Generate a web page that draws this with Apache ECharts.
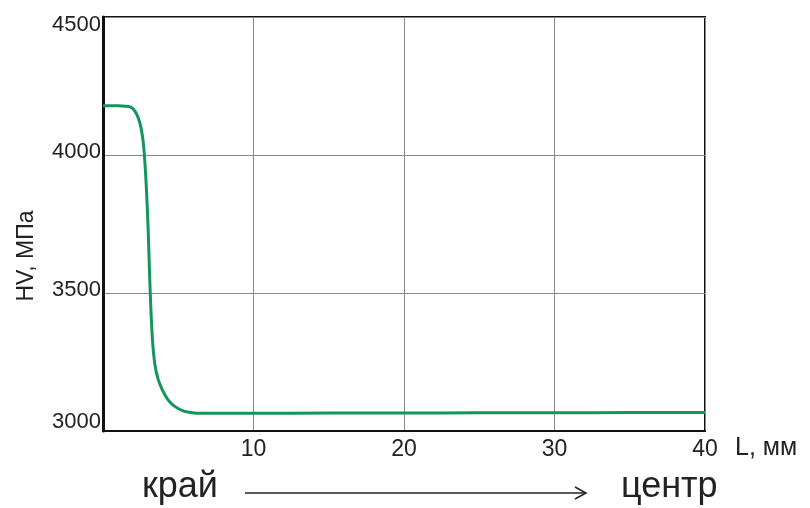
<!DOCTYPE html>
<html>
<head>
<meta charset="utf-8">
<script src="https://cdn.jsdelivr.net/npm/echarts@6/dist/echarts.min.js"></script>
<style>html,body{margin:0;padding:0;background:#fff}#c{width:810px;height:508px}</style>
</head>
<body>
<div id="c"></div>
<script>
const xMm = [0, 0.5, 1.0, 1.5, 1.8, 2.05, 2.25, 2.45, 2.6, 2.7, 2.8, 2.9, 3.0, 3.1, 3.2, 3.3, 3.45, 3.65, 3.95, 4.3, 4.7, 5.2, 5.7, 6.3, 8, 10, 15, 20, 25, 30, 35, 40];
const hvMPa = [4178, 4178, 4178, 4177, 4174, 4164, 4146, 4116, 4076, 4032, 3960, 3860, 3730, 3560, 3420, 3320, 3240, 3190, 3148, 3115, 3092, 3076, 3068, 3064, 3064, 3064, 3065, 3065, 3066, 3066, 3067, 3067];
const xTicks = [0, 10, 20, 30, 40];
const yTicks = [3000, 3500, 4000, 4500];

const chart = echarts.init(document.getElementById('c'));
const font = 'Liberation Sans, Arial, sans-serif';
chart.setOption({
  animation: false,
  backgroundColor: '#fff',
  grid: { left: 103, right: 105, top: 17, bottom: 77, show: true, borderColor: '#111', borderWidth: 2, backgroundColor: 'transparent' },
  xAxis: {
    type: 'value', min: xTicks[0], max: xTicks[xTicks.length - 1], interval: 10,
    name: 'L, мм', nameLocation: 'end', nameGap: 30,
    nameTextStyle: { color: '#222', fontSize: 25, fontFamily: font, verticalAlign: 'top', padding: [5, 0, 0, 0] },
    axisLine: { show: true, lineStyle: { color: '#111', width: 2 } },
    axisTick: { show: false },
    axisLabel: { color: '#222', fontSize: 23, fontFamily: font, margin: 7,
      formatter: v => (v === 0 ? '' : String(v)) },
    splitLine: { show: true, lineStyle: { color: '#8a8a8a', width: 1 } }
  },
  yAxis: {
    type: 'value', min: yTicks[0], max: yTicks[yTicks.length - 1], interval: 500,
    axisLine: { show: true, lineStyle: { color: '#111', width: 3 } },
    axisTick: { show: false },
    axisLabel: { color: '#222', fontSize: 22, fontFamily: font, margin: 2, verticalAlign: 'middle',
      formatter: v => v === 4500 ? '{t|' + v + '}' : (v === 3000 ? '{b|' + v + '}' : '{m|' + v + '}'),
      rich: {
        t: { fontSize: 22, fontFamily: font, color: '#222', padding: [16, 0, 0, 0] },
        b: { fontSize: 22, fontFamily: font, color: '#222', padding: [0, 0, 18, 0] },
        m: { fontSize: 22, fontFamily: font, color: '#222', padding: [0, 0, 6, 0] }
      }
    },
    splitLine: { show: true, lineStyle: { color: '#8a8a8a', width: 1 } }
  },
  series: [{
    type: 'line',
    data: xMm.map((x, i) => [x, hvMPa[i]]),
    smooth: 0.35,
    showSymbol: false,
    lineStyle: { color: '#13955c', width: 3 },
    z: 5
  }],
  graphic: [
    { type: 'text', x: 27, y: 256, rotation: Math.PI / 2, style: { text: 'HV, МПа', fontSize: 23, fontFamily: font, fill: '#222', align: 'center', verticalAlign: 'middle' } },
    { type: 'text', x: 142, y: 487, style: { text: 'край', fontSize: 36, fontFamily: font, fill: '#222', verticalAlign: 'middle' } },
    { type: 'text', x: 621, y: 487, style: { text: 'центр', fontSize: 36, fontFamily: font, fill: '#222', verticalAlign: 'middle' } },
    { type: 'line', shape: { x1: 245, y1: 493, x2: 586, y2: 493 }, style: { stroke: '#222', lineWidth: 1.5 } },
    { type: 'polyline', shape: { points: [[575, 487], [586, 493], [575, 499]] }, style: { stroke: '#222', lineWidth: 1.5, fill: null } }
  ]
});
</script>
</body>
</html>
